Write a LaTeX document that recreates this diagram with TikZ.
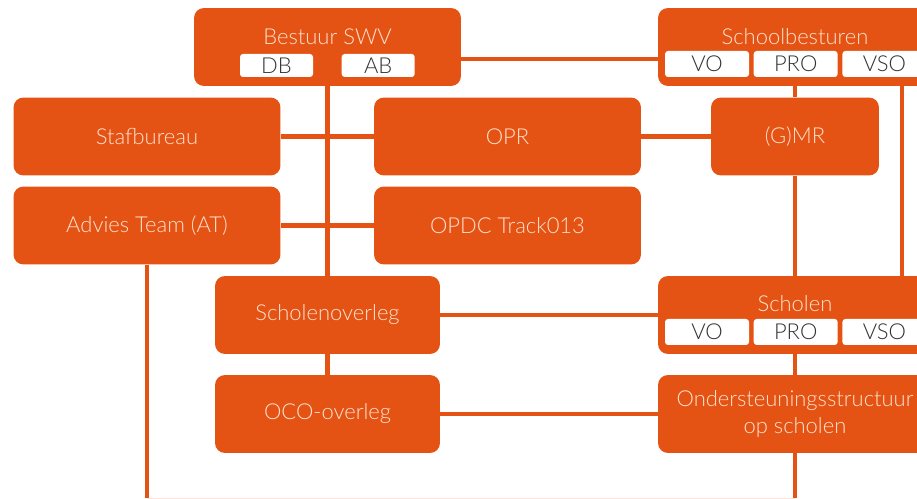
\documentclass[tikz,border=0pt]{standalone}
\usepackage{fontspec}
\setmainfont{Lato Light}
\usetikzlibrary{positioning}
\definecolor{swvorange}{RGB}{229,83,20}
\definecolor{swvtext}{RGB}{253,225,205}
\definecolor{swvgray}{RGB}{50,50,50}
\definecolor{swvfaint}{RGB}{253,228,214}

\begin{document}
\begin{tikzpicture}[x=0.02cm, y=-0.02cm,
    box/.style={fill=swvorange, rounded corners=0.2cm, text=swvtext, font=\fontsize{12.5}{15}\selectfont, align=center, inner sep=0pt, minimum height=1.56cm},
    wide/.style={box, minimum width=5.34cm},
    mid/.style={box, minimum width=4.5cm},
    far/.style={box, minimum width=5.48cm},
    title/.style={text=swvtext, font=\fontsize{12.5}{15}\selectfont, inner sep=0pt},
    sub/.style={fill=white, rounded corners=0.06cm, text=swvgray, font=\fontsize{12.5}{15}\selectfont, inner sep=0pt, minimum height=0.52cm, minimum width=1.68cm},
    link/.style={draw=swvorange, line width=2.8pt}
]
\useasboundingbox (0,0) rectangle (917,499);

\node[wide] (bestuur) at (327.5,47) {};
\node[title] (bestuurtitle) at ([yshift=0.2cm]bestuur.center) {Bestuur SWV};
\node[sub, minimum width=1.46cm, minimum height=0.46cm, above right=0.18cm and 0.92cm of bestuur.south west, anchor=south west] (db) {DB};
\node[sub, minimum width=1.46cm, minimum height=0.46cm, right=0.56cm of db] (ab) {AB};

\node[far] (schoolbesturen) at (795,47) {};
\node[title] (schoolbesturentitle) at ([yshift=0.2cm]schoolbesturen.center) {Schoolbesturen};
\node[sub, above right=0.18cm and 0.14cm of schoolbesturen.south west, anchor=south west] (sbvo) {VO};
\node[sub, right=0.08cm of sbvo] (sbpro) {PRO};
\node[sub, right=0.08cm of sbpro] (sbvso) {VSO};

\node[wide] (stafbureau) at (147,136.5) {Stafbureau};
\node[wide] (opr) at (507.5,136.5) {OPR};
\node[box, minimum width=3.36cm] (gmr) at (795,136.5) {(G)MR};
\node[wide] (at) at (147,225.5) {Advies Team (AT)};
\node[wide] (opdc) at (507.5,225.5) {OPDC Track013};

\node[mid] (scholenoverleg) at (327.5,315) {Scholenoverleg};
\node[far] (scholen) at (795,315) {};
\node[title] (scholentitle) at ([yshift=0.22cm]scholen.center) {Scholen};
\node[sub, above right=0.18cm and 0.14cm of scholen.south west, anchor=south west] (scvo) {VO};
\node[sub, right=0.08cm of scvo] (scpro) {PRO};
\node[sub, right=0.08cm of scpro] (scvso) {VSO};

\node[mid] (oco) at (327.5,414) {OCO-overleg};
\node[far] (onder) at (795,414) {Ondersteuningsstructuur\\op scholen};

\coordinate (atend) at (147,498.5);
\coordinate (onderend) at (795,498.5);

\draw[link] (bestuur) -- (scholenoverleg);
\draw[link] (scholenoverleg) -- (oco);
\draw[link] (stafbureau) -- (opr);
\draw[link] (opr) -- (gmr);
\draw[link] (at) -- (opdc);
\draw[link] ([yshift=-0.24cm]bestuur.east) -- ([yshift=-0.24cm]schoolbesturen.west);
\draw[link] (schoolbesturen) -- (gmr);
\draw[link] (gmr) -- (scholen);
\draw[link] ([xshift=2.14cm]schoolbesturen.south) -- ([xshift=2.14cm]scholen.north);
\draw[link] (scholenoverleg) -- (scholen);
\draw[link] (scholen) -- (onder);
\draw[link] (oco) -- (onder);
\draw[link] (at) -- (atend);
\draw[link] (onder) -- (onderend);
\draw[swvfaint, line width=1pt] (atend) -- (onderend);
\end{tikzpicture}
\end{document}
